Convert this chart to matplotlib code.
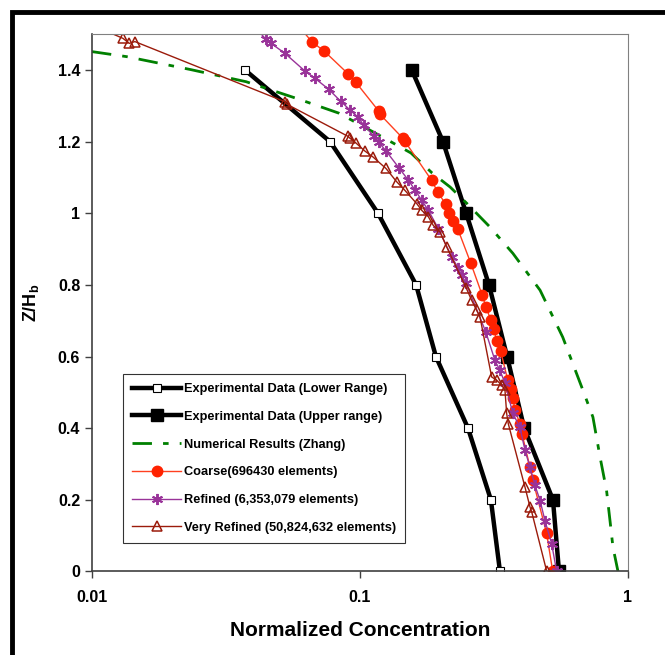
import numpy as np
import matplotlib.pyplot as plt
from matplotlib.patches import Rectangle

plt.rcParams['font.family'] = ['Liberation Sans', 'DejaVu Sans']
plt.rcParams['font.weight'] = 'bold'
plt.rcParams['mathtext.fontset'] = 'custom'
plt.rcParams['mathtext.bf'] = 'Liberation Sans:bold'
plt.rcParams['mathtext.rm'] = 'Liberation Sans:bold'

# experimental data
exp_z = [1.4, 1.2, 1.0, 0.8, 0.6, 0.4, 0.2, 0.0]
exp_lower = [0.0372, 0.0773, 0.1167, 0.162, 0.192, 0.253, 0.308, 0.333]
exp_upper = [0.156, 0.204, 0.249, 0.303, 0.354, 0.410, 0.525, 0.553]

# Zhang numerical results
zhang_c = [0.01, 0.01346, 0.0233, 0.0376, 0.0582, 0.0836, 0.121, 0.155, 0.186,
           0.217, 0.250, 0.305, 0.372, 0.470, 0.571, 0.679, 0.740, 0.787,
           0.832, 0.857, 0.879, 0.918]
zhang_z = [1.451, 1.437, 1.401, 1.367, 1.320, 1.279, 1.213, 1.168, 1.112,
           1.073, 1.028, 0.962, 0.888, 0.785, 0.654, 0.506, 0.431, 0.319,
           0.226, 0.142, 0.068, 0.0]

# coarse mesh
coarse_c = [0.058, 0.0662, 0.0734, 0.0906, 0.0966, 0.1175, 0.1188, 0.1446, 0.147,
            0.185, 0.195, 0.209, 0.215, 0.222, 0.232, 0.259, 0.286, 0.295,
            0.308, 0.316, 0.324, 0.335, 0.356, 0.366, 0.372, 0.379, 0.395,
            0.402, 0.431, 0.442, 0.497, 0.524]
coarse_z = [1.53, 1.478, 1.453, 1.388, 1.365, 1.285, 1.276, 1.209, 1.201,
            1.092, 1.059, 1.025, 1.001, 0.978, 0.955, 0.861, 0.771, 0.739,
            0.701, 0.676, 0.642, 0.615, 0.534, 0.508, 0.483, 0.450, 0.413,
            0.385, 0.291, 0.254, 0.107, 0.0]

# refined mesh
refined_c = [0.0395, 0.0446, 0.0466, 0.0525, 0.0623, 0.0678, 0.0764, 0.0846,
             0.0918, 0.098, 0.1035, 0.1128, 0.1175, 0.125, 0.1403, 0.1516,
             0.160, 0.170, 0.180, 0.196, 0.220, 0.233, 0.240, 0.249, 0.295,
             0.319, 0.333, 0.348, 0.372, 0.395, 0.413, 0.431, 0.450, 0.470,
             0.490, 0.519, 0.542]
refined_z = [1.53, 1.485, 1.474, 1.446, 1.397, 1.377, 1.346, 1.313,
             1.288, 1.269, 1.245, 1.215, 1.198, 1.174, 1.125, 1.092,
             1.066, 1.036, 1.008, 0.957, 0.878, 0.846, 0.827, 0.804, 0.668,
             0.589, 0.561, 0.525, 0.441, 0.403, 0.338, 0.291, 0.240, 0.198,
             0.142, 0.078, 0.0]

# very refined mesh
vref_c = [0.0097, 0.01305, 0.01378, 0.01446, 0.0525, 0.0534, 0.090, 0.0918,
          0.0966, 0.1041, 0.1118, 0.125, 0.137, 0.147, 0.1628, 0.170, 0.180,
          0.1877, 0.1989, 0.2106, 0.2496, 0.261, 0.2725, 0.2805, 0.310,
          0.3236, 0.338, 0.3476, 0.3527, 0.3575, 0.413, 0.431, 0.4375, 0.4977]
vref_z = [1.53, 1.488, 1.474, 1.479, 1.311, 1.304, 1.215, 1.209,
          1.196, 1.174, 1.157, 1.125, 1.088, 1.064, 1.027, 1.008, 0.990,
          0.966, 0.948, 0.906, 0.790, 0.757, 0.729, 0.710, 0.543,
          0.534, 0.520, 0.506, 0.441, 0.413, 0.235, 0.180, 0.166, 0.0]

fig = plt.figure(figsize=(6.65, 6.55), dpi=100)
ax = fig.add_axes([0.1383, 0.1275, 0.806, 0.8205])

ax.plot(exp_lower, exp_z, color='black', lw=3.2, marker='s', ms=6,
        mfc='white', mec='black', mew=0.8, label='Experimental Data (Lower Range)')
ax.plot(exp_upper, exp_z, color='black', lw=3.2, marker='s', ms=8,
        mfc='black', mec='black', label='Experimental Data (Upper range)')
ax.plot(zhang_c, zhang_z, color='#008000', lw=2, dashes=(7, 4, 2, 4),
        label='Numerical Results (Zhang)')
ax.plot(coarse_c, coarse_z, color='#FF4020', lw=1, marker='o', ms=7.5,
        mfc='#FF2200', mec='#FF2200', label='Coarse(696430 elements)')
ax.plot(refined_c, refined_z, color='#993399', lw=1, marker=(6, 2, 0), ms=8,
        mec='#993399', mew=1.4, label='Refined (6,353,079 elements)')
ax.plot(vref_c, vref_z, color='#9B1B0B', lw=1, marker='^', ms=7,
        mfc='none', mec='#9B1B0B', mew=1.1, label='Very Refined (50,824,632 elements)')

ax.set_xscale('log')
ax.set_xlim(0.01, 1)
ax.set_ylim(0, 1.5)
ax.set_xticks([0.01, 0.1, 1])
ax.set_xticklabels(['0.01', '0.1', '1'])
ax.set_yticks([0, 0.2, 0.4, 0.6, 0.8, 1.0, 1.2, 1.4])
ax.set_yticklabels(['0', '0.2', '0.4', '0.6', '0.8', '1', '1.2', '1.4'])
ax.minorticks_off()
ax.tick_params(axis='both', direction='out', length=5, width=1, color='#404040',
               labelsize=11.5)
ax.tick_params(axis='x', pad=8)
for s in ['top', 'right']:
    ax.spines[s].set_color('#808080')
for s in ['left', 'bottom']:
    ax.spines[s].set_color('#404040')
    ax.spines[s].set_linewidth(1.2)

ax.set_xlabel('Normalized Concentration', fontsize=15, fontweight='bold', labelpad=12)
ax.set_ylabel(r'Z/H$_\mathbf{b}$', fontsize=13, fontweight='bold', labelpad=12)

leg = ax.legend(loc='lower left', bbox_to_anchor=(0.0573, 0.0536), borderaxespad=0,
                fontsize=9.2, frameon=True, fancybox=False, edgecolor='black',
                handlelength=3.9, handletextpad=0.2, labelspacing=1.23,
                borderpad=0.7)
leg.get_frame().set_linewidth(0.8)

# outer frame of the picture
fig.patches.append(Rectangle((12 / 665, -0.05), 1.1, 1 - 12 / 655 + 0.05,
                             transform=fig.transFigure, fill=False,
                             edgecolor='black', lw=3.5))

fig.savefig('out.png', dpi=100)
